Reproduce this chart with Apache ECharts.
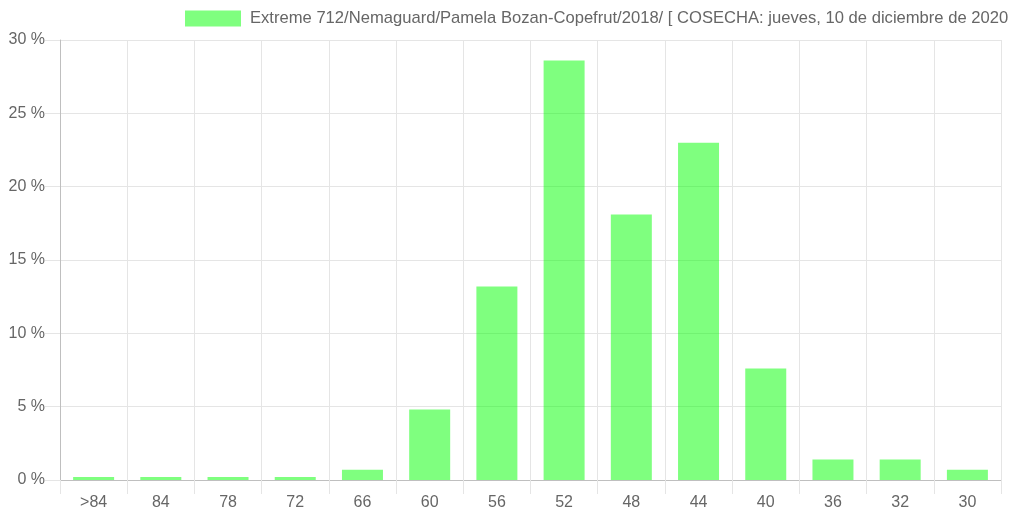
<!DOCTYPE html>
<html>
<head>
<meta charset="utf-8">
<script src="https://cdn.jsdelivr.net/npm/echarts@6/dist/echarts.min.js"></script>
<style>
    html, body { margin: 0; padding: 0; background: #fff; }
    #chart { width: 1013px; height: 513px; }
</style>
</head>
<body>
<div id="chart"></div>
<script>
    // calibres y porcentaje de frutos
    const categories = ['>84', '84', '78', '72', '66', '60', '56', '52', '48', '44', '40', '36', '32', '30']
    const values = [0.2, 0.2, 0.2, 0.2, 0.7, 4.8, 13.2, 28.6, 18.1, 23.0, 7.6, 1.4, 1.4, 0.7]
    const seriesName = 'Extreme 712/Nemaguard/Pamela Bozan-Copefrut/2018/ [ COSECHA: jueves, 10 de diciembre de 2020'

    const font = '"Liberation Sans", Arial, sans-serif'
    const green = 'rgba(0,255,0,0.5)'

    const chart = echarts.init(document.getElementById('chart'))
    chart.setOption({
        animation: false,
        textStyle: { fontFamily: font },
        legend: {
            left: 185,
            top: 10,
            padding: 0,
            itemWidth: 56,
            itemHeight: 16,
            icon: 'rect',
            itemStyle: { color: green, borderWidth: 0 },
            textStyle: { color: '#666', fontSize: 16.6, fontFamily: font, padding: [0, 0, 0, 4] },
            data: [seriesName]
        },
        grid: {
            left: 60,
            right: 12,
            top: 40,
            bottom: 33
        },
        xAxis: {
            type: 'category',
            data: categories,
            axisLine: { lineStyle: { color: '#bfbfbf' } },
            axisTick: { show: true, length: 14, lineStyle: { color: '#e5e5e5' } },
            axisLabel: { color: '#666', fontSize: 16, margin: 15, fontFamily: font },
            splitLine: { show: true, lineStyle: { color: '#e5e5e5' } }
        },
        yAxis: {
            type: 'value',
            min: 0,
            max: 30,
            interval: 5,
            axisLine: { show: true, lineStyle: { color: '#bfbfbf' } },
            axisTick: { show: true, length: 15, lineStyle: { color: '#e5e5e5' } },
            axisLabel: { color: '#666', fontSize: 16, margin: 15, fontFamily: font, formatter: '{value} %' },
            splitLine: { show: true, lineStyle: { color: '#e5e5e5' } }
        },
        series: [{
            name: seriesName,
            type: 'bar',
            data: values,
            barCategoryGap: '39%',
            itemStyle: { color: green }
        }]
    })
</script>
</body>
</html>
